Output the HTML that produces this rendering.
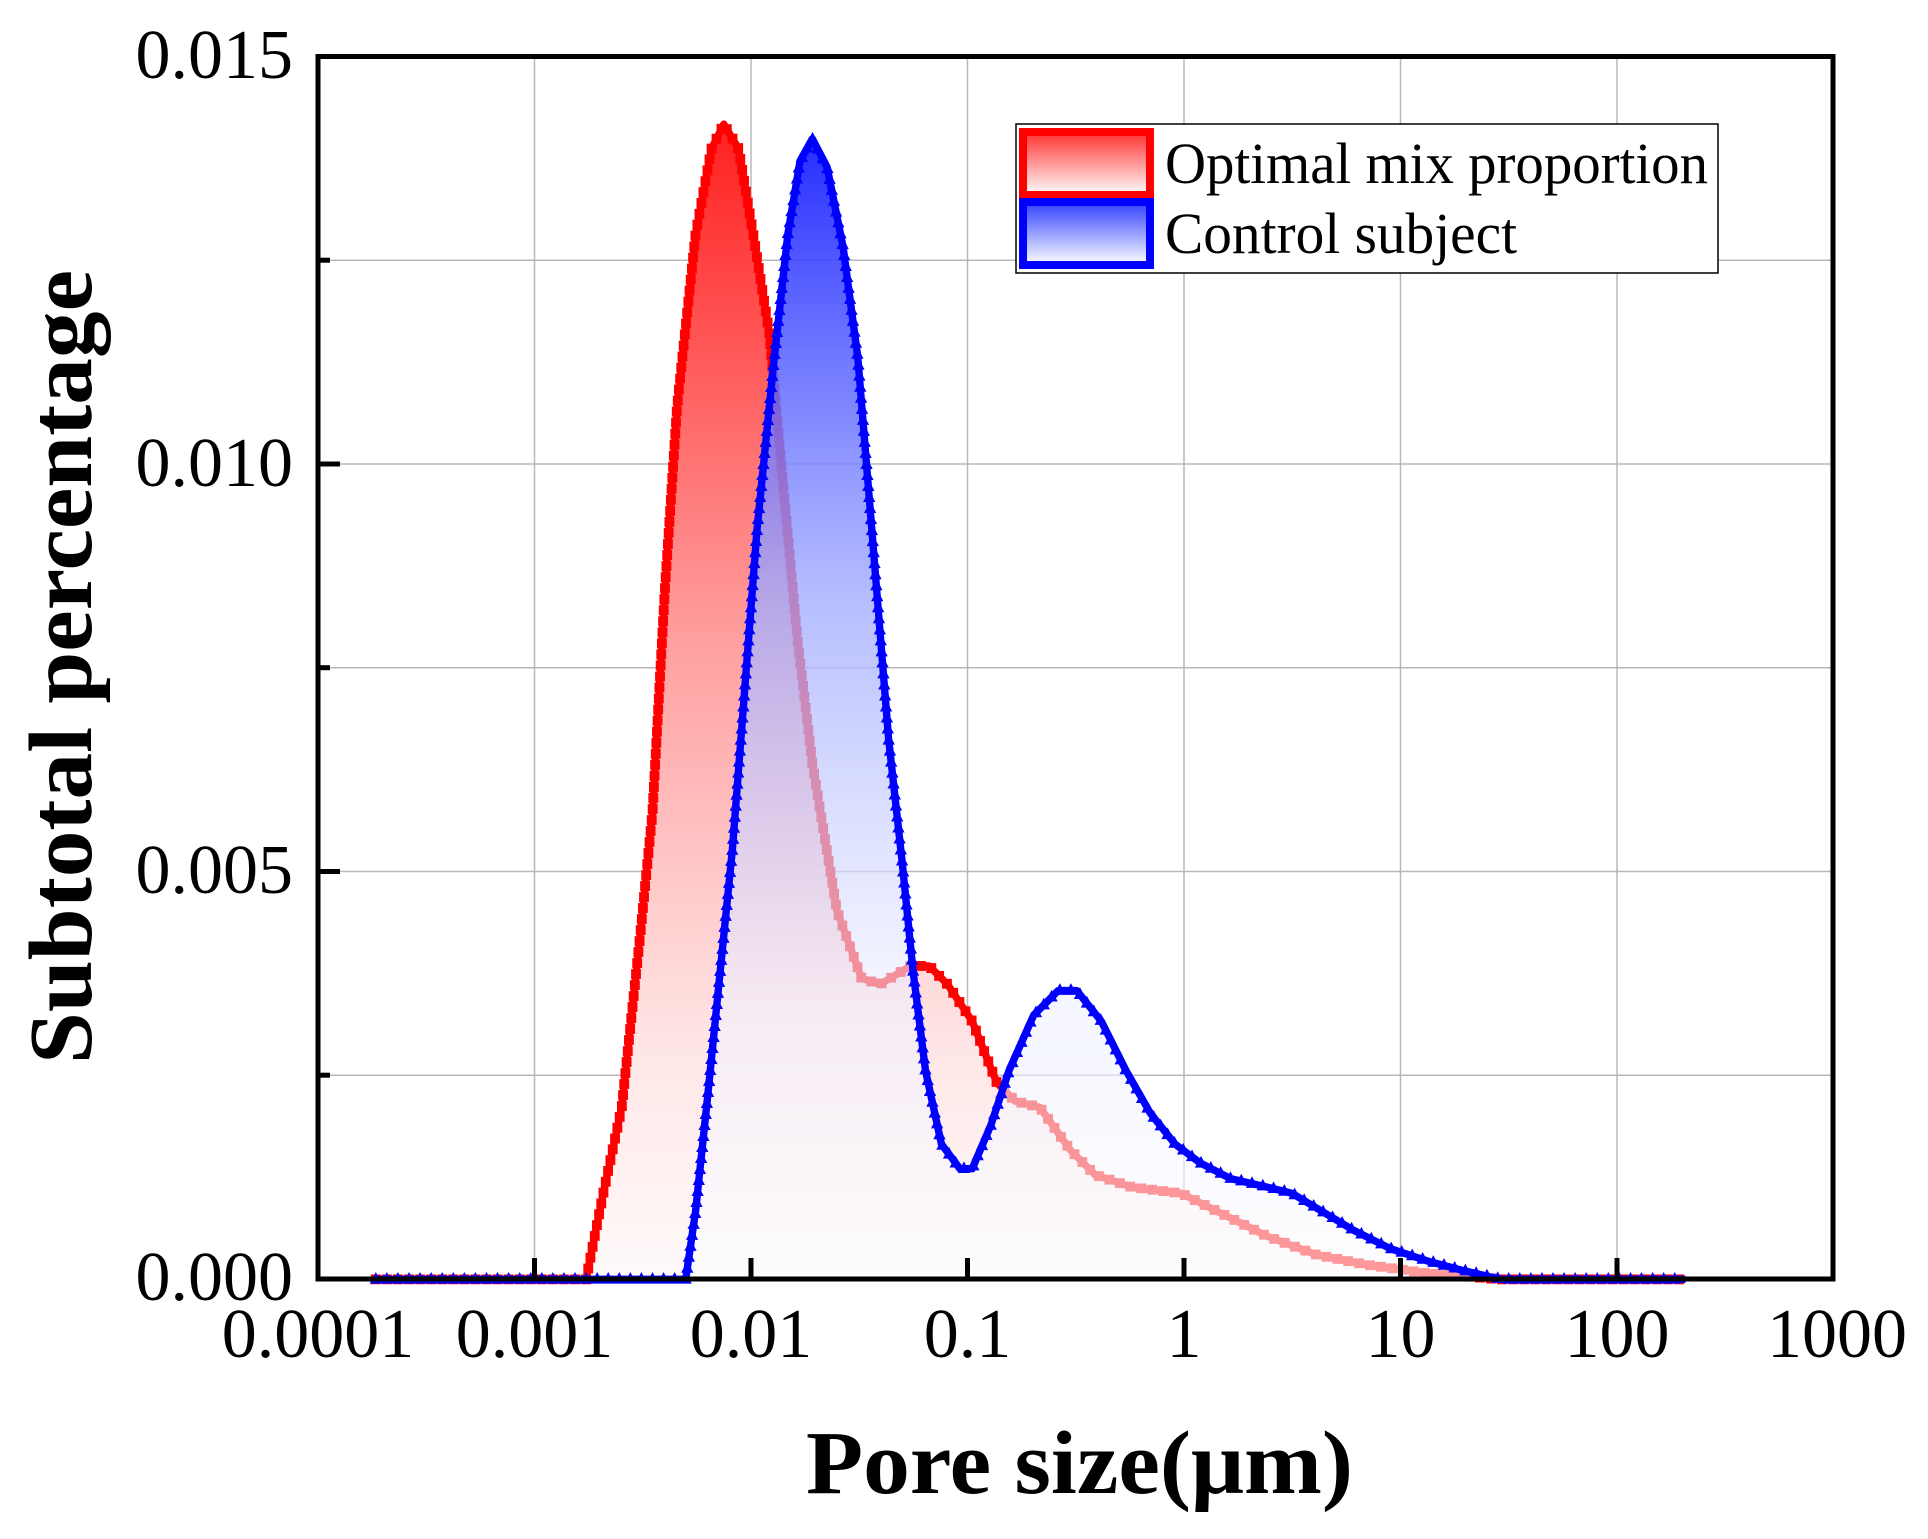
<!DOCTYPE html>
<html><head><meta charset="utf-8"><style>
html,body{margin:0;padding:0;background:#fff;}
svg{display:block;}
text{font-family:"Liberation Serif","Times New Roman",serif;fill:#000;}
</style></head><body>
<svg id="s" width="1928" height="1539" viewBox="0 0 1928 1539" xmlns="http://www.w3.org/2000/svg">
<defs>
<linearGradient id="redF" x1="0" y1="100" x2="0" y2="1040" gradientUnits="userSpaceOnUse">
<stop offset="0" stop-color="#ff2020"/><stop offset="0.45" stop-color="#ffa0a0"/><stop offset="0.8" stop-color="#ffe6e6"/><stop offset="1" stop-color="#fffafa"/>
</linearGradient>
<linearGradient id="blueF" x1="0" y1="112" x2="0" y2="1040" gradientUnits="userSpaceOnUse">
<stop offset="0" stop-color="#1a22ff" stop-opacity="0.95"/><stop offset="0.4" stop-color="#a0aaff" stop-opacity="0.78"/><stop offset="0.75" stop-color="#eef0ff" stop-opacity="0.6"/><stop offset="1" stop-color="#fdfdff" stop-opacity="0.6"/>
</linearGradient>
<linearGradient id="lr" x1="0" y1="0" x2="0" y2="1">
<stop offset="0" stop-color="#ff3030"/><stop offset="1" stop-color="#ffffff"/>
</linearGradient>
<linearGradient id="lb" x1="0" y1="0" x2="0" y2="1">
<stop offset="0" stop-color="#3040ff"/><stop offset="1" stop-color="#ffffff"/>
</linearGradient>
</defs>
<rect width="1928" height="1539" fill="#fff"/>
<g stroke="#b8b8b8" stroke-width="1.5">
<line x1="534.5" y1="56" x2="534.5" y2="1279"/>
<line x1="751" y1="56" x2="751" y2="1279"/>
<line x1="967.5" y1="56" x2="967.5" y2="1279"/>
<line x1="1184" y1="56" x2="1184" y2="1279"/>
<line x1="1400.5" y1="56" x2="1400.5" y2="1279"/>
<line x1="1617" y1="56" x2="1617" y2="1279"/>
<line x1="318" y1="260.2" x2="1833" y2="260.2"/>
<line x1="318" y1="464" x2="1833" y2="464"/>
<line x1="318" y1="667.7" x2="1833" y2="667.7"/>
<line x1="318" y1="871.5" x2="1833" y2="871.5"/>
<line x1="318" y1="1075.2" x2="1833" y2="1075.2"/>
</g>
<g id="curves" transform="translate(318,56.5) scale(1.2297,1.229) translate(-258,-45)">
<path id="redp" fill="url(#redF)" d="M305,1040 L476,1040 L490,970 L505,900 L520,760 L530,660 L540,480 L550,330 L565,190 L578,120 L588,100 L600,120 L612,190 L625,270 L635,380 L648,520 L660,620 L680,740 L700,795 L715,800 L740,785 L755,785 L770,800 L790,830 L810,880 L825,895 L845,900 L870,935 L890,955 L920,965 L960,970 L1000,990 L1030,1005 L1070,1020 L1110,1028 L1160,1035 L1220,1040 L1370,1040 Z"/>
<path id="redl" fill="none" stroke="#ff0000" stroke-width="6" stroke-linejoin="round" d="M305,1040 L476,1040 L490,970 L505,900 L520,760 L530,660 L540,480 L550,330 L565,190 L578,120 L588,100 L600,120 L612,190 L625,270 L635,380 L648,520 L660,620 L680,740 L700,795 L715,800 L740,785 L755,785 L770,800 L790,830 L810,880 L825,895 L845,900 L870,935 L890,955 L920,965 L960,970 L1000,990 L1030,1005 L1070,1020 L1110,1028 L1160,1035 L1220,1040 L1370,1040"/>
<g id="redm" fill="#ff0000"></g>
<path id="bluep" fill="url(#blueF)" d="M305,1040 L557,1040 L565,985 L575,890 L585,790 L595,690 L605,560 L615,430 L628,300 L640,190 L650,130 L660,112 L672,135 L685,200 L697,290 L710,450 L722,600 L733,700 L742,790 L752,870 L765,930 L780,950 L790,950 L805,915 L820,870 L840,825 L860,805 L875,805 L895,830 L915,870 L935,905 L955,930 L975,945 L1000,958 L1030,965 L1050,970 L1075,985 L1100,1000 L1130,1015 L1160,1025 L1190,1033 L1220,1040 L1370,1040 Z"/>
<path id="bluel" fill="none" stroke="#0000ff" stroke-width="6" stroke-linejoin="round" d="M305,1040 L557,1040 L565,985 L575,890 L585,790 L595,690 L605,560 L615,430 L628,300 L640,190 L650,130 L660,112 L672,135 L685,200 L697,290 L710,450 L722,600 L733,700 L742,790 L752,870 L765,930 L780,950 L790,950 L805,915 L820,870 L840,825 L860,805 L875,805 L895,830 L915,870 L935,905 L955,930 L975,945 L1000,958 L1030,965 L1050,970 L1075,985 L1100,1000 L1130,1015 L1160,1025 L1190,1033 L1220,1040 L1370,1040"/>
<g id="bluem" fill="#0000ff"></g>
</g>
<rect x="318" y="56.5" width="1515" height="1222.5" fill="none" stroke="#000" stroke-width="5"/>
<g stroke="#000" stroke-width="5">
<line x1="534.5" y1="1279" x2="534.5" y2="1258"/>
<line x1="751" y1="1279" x2="751" y2="1258"/>
<line x1="967.5" y1="1279" x2="967.5" y2="1258"/>
<line x1="1184" y1="1279" x2="1184" y2="1258"/>
<line x1="1400.5" y1="1279" x2="1400.5" y2="1258"/>
<line x1="1617" y1="1279" x2="1617" y2="1258"/>
<line x1="318" y1="260.2" x2="330" y2="260.2"/>
<line x1="318" y1="464" x2="340" y2="464"/>
<line x1="318" y1="667.7" x2="330" y2="667.7"/>
<line x1="318" y1="871.5" x2="340" y2="871.5"/>
<line x1="318" y1="1075.2" x2="330" y2="1075.2"/>
</g>
<g font-size="70" text-anchor="end">
<text x="293" y="78">0.015</text>
<text x="293" y="486">0.010</text>
<text x="293" y="893">0.005</text>
<text x="293" y="1300">0.000</text>
</g>
<g font-size="70" text-anchor="middle">
<text x="318" y="1357">0.0001</text>
<text x="534.5" y="1357">0.001</text>
<text x="751" y="1357">0.01</text>
<text x="967.5" y="1357">0.1</text>
<text x="1184" y="1357">1</text>
<text x="1400.5" y="1357">10</text>
<text x="1617" y="1357">100</text>
<text x="1837" y="1357">1000</text>
</g>
<text x="806" y="1493" font-size="90" font-weight="bold" textLength="547" lengthAdjust="spacingAndGlyphs">Pore size(μm)</text>
<text transform="translate(91,1064) rotate(-90)" font-size="90" font-weight="bold" textLength="794" lengthAdjust="spacingAndGlyphs">Subtotal percentage</text>
<rect x="1016" y="124" width="702" height="149" fill="#fff" stroke="#000" stroke-width="1.5"/>
<rect x="1023" y="132" width="127" height="63" fill="url(#lr)" stroke="#ff0000" stroke-width="8"/>
<rect x="1023" y="202" width="127" height="63" fill="url(#lb)" stroke="#0000ff" stroke-width="8"/>
<text x="1165" y="183" font-size="58" textLength="543" lengthAdjust="spacingAndGlyphs">Optimal mix proportion</text>
<text x="1165" y="253" font-size="58" textLength="352" lengthAdjust="spacingAndGlyphs">Control subject</text>
<script>
(function(){
var ns="http://www.w3.org/2000/svg";
function mk(pid,gid,tri){
 var p=document.getElementById(pid),g=document.getElementById(gid);
 var L=p.getTotalLength();
 for(var s=0;s<=L;s+=9){
  var pt=p.getPointAtLength(s),e;
  if(tri){e=document.createElementNS(ns,"polygon");
   e.setAttribute("points",(pt.x-5)+","+(pt.y+3.5)+" "+(pt.x+5)+","+(pt.y+3.5)+" "+pt.x+","+(pt.y-6));}
  else{e=document.createElementNS(ns,"rect");
   e.setAttribute("x",pt.x-4);e.setAttribute("y",pt.y-4);e.setAttribute("width",8);e.setAttribute("height",8);}
  g.appendChild(e);
 }
}
mk("redl","redm",false);mk("bluel","bluem",true);
})();
</script>
</svg>
</body></html>
